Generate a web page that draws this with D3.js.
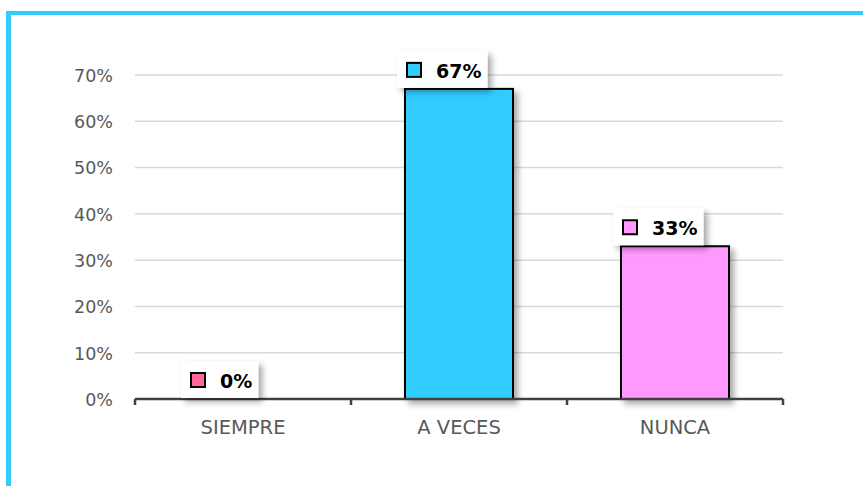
<!DOCTYPE html>
<meta charset="utf-8">
<style>
body { margin: 0; background: #fff; }
text { font-family: "DejaVu Sans", sans-serif; }
.grid line { stroke: #d9d9d9; stroke-width: 1.5; }
.axis text { fill: #595959; }
</style>
<body>
<script src="https://d3js.org/d3.v7.min.js"></script>
<script>
// data
var categories = ["SIEMPRE", "A VECES", "NUNCA"];
var values = [0, 0.67, 0.33];
var colors = ["#ff6699", "#33ccff", "#ff99ff"];
var yTicks = [0, 0.1, 0.2, 0.3, 0.4, 0.5, 0.6, 0.7];

var width = 863, height = 486;
var margin = {top: 75, right: 80, bottom: 87, left: 135};

var svg = d3.select("body").append("svg")
    .attr("width", width)
    .attr("height", height);

var defs = svg.append("defs");
var f = defs.append("filter").attr("id", "shadow")
    .attr("x", "-20%").attr("y", "-20%").attr("width", "160%").attr("height", "160%");
f.append("feDropShadow").attr("dx", 4).attr("dy", 4).attr("stdDeviation", 3)
    .attr("flood-color", "#000").attr("flood-opacity", 0.35);

// frame (cyan border top + left)
svg.append("rect").attr("x", 6).attr("y", 11).attr("width", width).attr("height", 4).attr("fill", "#33ccff");
svg.append("rect").attr("x", 6).attr("y", 11).attr("width", 5).attr("height", height).attr("fill", "#33ccff");

var g = svg.append("g").attr("transform", "translate(" + margin.left + "," + margin.top + ")");
var w = width - margin.left - margin.right;   // 648
var h = 399 - margin.top;                      // 324

var x = d3.scaleBand().domain(categories).range([0, w]).paddingInner(0.5).paddingOuter(0.25);
var y = d3.scaleLinear().domain([0, 0.7]).range([h, 0]);

// gridlines
g.append("g").attr("class", "grid")
  .selectAll("line").data(yTicks.slice(1)).enter().append("line")
    .attr("x1", 0).attr("x2", w)
    .attr("y1", function(d) { return y(d); })
    .attr("y2", function(d) { return y(d); });

// y axis labels
var yAxis = d3.axisLeft(y).tickValues(yTicks).tickFormat(d3.format(".0%")).tickSize(0).tickPadding(22);
var ya = g.append("g").attr("class", "axis").call(yAxis);
ya.select(".domain").remove();
ya.selectAll("text").attr("font-size", 17.5).attr("font-family", "DejaVu Sans").attr("dy", "0.36em");

// bars
g.selectAll(".bar").data(values).enter().append("rect")
    .attr("class", "bar")
    .attr("x", function(d, i) { return x(categories[i]); })
    .attr("y", function(d) { return y(d); })
    .attr("width", x.bandwidth())
    .attr("height", function(d) { return h - y(d); })
    .attr("fill", function(d, i) { return colors[i]; })
    .attr("stroke", "#000")
    .attr("stroke-width", 2)
    .attr("filter", "url(#shadow)");

// x axis
var band = w / categories.length;
var xAxis = d3.axisBottom(x).tickSize(0).tickPadding(21);
var xa = g.append("g").attr("class", "axis").attr("transform", "translate(0," + h + ")").call(xAxis);
xa.select(".domain").remove();
xa.selectAll("text").attr("font-size", 19.5).attr("font-family", "DejaVu Sans").attr("dy", "0.71em");
g.append("line").attr("x1", 0).attr("x2", w).attr("y1", h).attr("y2", h)
    .attr("stroke", "#404040").attr("stroke-width", 2.5);
g.selectAll(".xt").data(d3.range(categories.length + 1)).enter().append("line")
    .attr("x1", function(d) { return d * band; })
    .attr("x2", function(d) { return d * band; })
    .attr("y1", h).attr("y2", h + 6)
    .attr("stroke", "#404040").attr("stroke-width", 2.5);

// data labels
var lab = g.selectAll(".lab").data(values).enter().append("g")
    .attr("transform", function(d, i) {
      return "translate(" + (x(categories[i]) + x.bandwidth() / 2 - 23) + "," + y(d) + ")";
    });
var box = lab.append("rect")
    .attr("x", -39).attr("y", -38).attr("height", 37)
    .attr("fill", "#fff")
    .attr("filter", "url(#shadow)");
lab.append("rect")
    .attr("x", -29).attr("y", -26).attr("width", 14).attr("height", 14)
    .attr("fill", function(d, i) { return colors[i]; })
    .attr("stroke", "#000").attr("stroke-width", 2);
var txt = lab.append("text")
    .attr("x", 0).attr("y", -11)
    .attr("font-size", 19).attr("font-weight", "bold").attr("fill", "#000")
    .text(function(d) { return d3.format(".0%")(d); });
txt.each(function(d, i) {
  var tw = this.getComputedTextLength();
  d3.select(box.nodes()[i]).attr("width", 39 + tw + 6);
});
</script>
</body>
